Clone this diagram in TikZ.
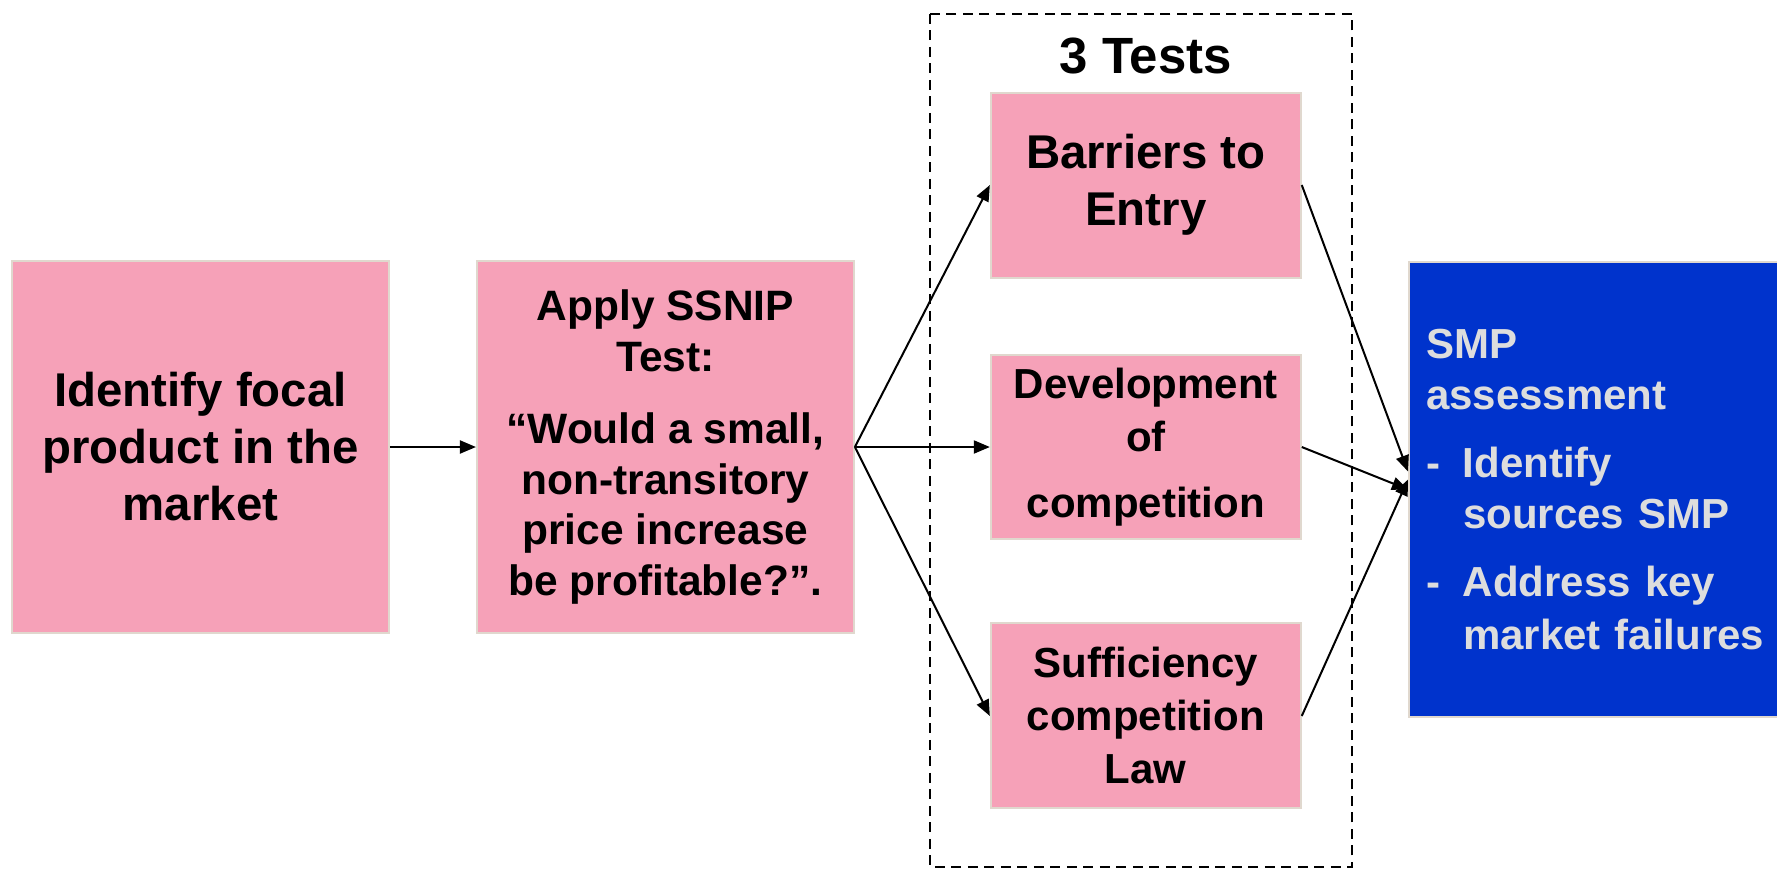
\documentclass[tikz,border=0pt]{standalone}
\usepackage{fontspec}
\setmainfont{Liberation Sans}
\usetikzlibrary{positioning,arrows.meta}
\definecolor{boxpink}{RGB}{246,161,184}
\definecolor{boxrim}{RGB}{224,216,206}
\definecolor{smpblue}{RGB}{0,51,204}
\definecolor{smptext}{RGB}{221,221,221}
\tikzset{stage/.style={rectangle,fill=boxpink,draw=boxrim,line width=0.04cm,inner sep=0pt,align=center,minimum width=7.54cm,minimum height=7.44cm}}
\tikzset{testbox/.style={stage,minimum width=6.2cm,minimum height=3.7cm}}
\tikzset{smpbox/.style={rectangle,fill=smpblue,draw=boxrim,line width=0.04cm,text=smptext,align=left,text width=7.2cm,inner xsep=0.34cm,inner ysep=0pt,minimum height=9.1cm,font=\smallfont}}
\tikzset{flow/.style={line width=0.04cm,-{Triangle[length=0.32cm,width=0.26cm]}}}
\tikzset{testframe/.style={draw,line width=0.045cm,dash pattern=on 0.2cm off 0.13cm}}
\newcommand{\bigfont}{\bfseries\fontsize{26.97pt}{32.44pt}\selectfont}
\newcommand{\midfont}{\bfseries\fontsize{24.19pt}{28.74pt}\selectfont}
\newcommand{\smallfont}{\bfseries\fontsize{23.9pt}{30.16pt}\selectfont}
\newcommand{\smpitem}[1]{\makebox[0.74cm][l]{-}#1}

\begin{document}
\begin{tikzpicture}[x=0.02cm,y=-0.02cm]
\useasboundingbox(0,0)rectangle(1777,869);
\node[stage,font=\bigfont](focal)at(200.5,447){Identify focal\\product in the\\market};
\node[stage,font=\midfont](ssnip)[right=1.72cm of focal]{Apply SSNIP\\Test:\\[0.44cm]``Would a small,\\non-transitory\\price increase\\be profitable?''.};
\node[testbox,font=\smallfont](dev)[right=2.7cm of ssnip]{Development\\of\\[0.26cm]competition};
\node[testbox,font=\bigfont](barriers)[above=1.5cm of dev]{Barriers to\\Entry};
\node[testbox,font=\smallfont](suff)[below=1.64cm of dev]{Sufficiency\\competition\\Law};
\node[inner sep=0pt,font=\bfseries\fontsize{29pt}{34pt}\selectfont](tests)[above=0.34cm of barriers]{3 Tests};
\node[smpbox,anchor=west](smp)at(1408,489.5){\baselineskip=29pt SMP\\assessment\\[0.34cm]\smpitem{Identify}\\\hspace*{0.74cm}sources SMP\\[0.34cm]\smpitem{Address key}\\\hspace*{0.74cm}market failures};
\draw[testframe](930,14)rectangle(1352,867);
\draw[flow](focal)--(ssnip);
\draw[flow](ssnip.east)--(barriers.west);
\draw[flow](ssnip.east)--(dev.west);
\draw[flow](ssnip.east)--(suff.west);
\draw[flow](barriers.east)--([yshift=0.36cm]smp.west);
\draw[flow](dev.east)--(smp.west);
\draw[flow](suff.east)--([yshift=0.2cm]smp.west);
\end{tikzpicture}
\end{document}
